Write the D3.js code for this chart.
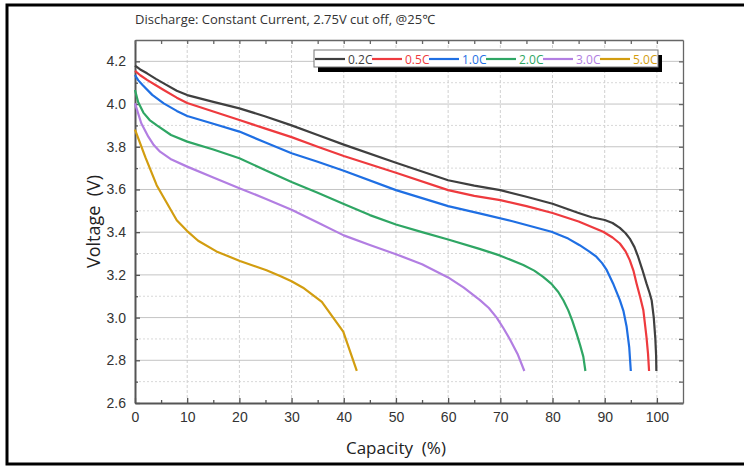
<!DOCTYPE html>
<html>
<head>
<meta charset="utf-8">
<script src="https://cdn.jsdelivr.net/npm/d3@7"></script>
<style>
  body { margin: 0; background: #fff; }
  svg { display: block; font-family: "Open Sans", "Noto Sans", sans-serif; }
  .pre { white-space: pre; }
</style>
</head>
<body>
<div id="chart"></div>
<script>
// discharge curves, [capacity %, voltage V]
const rate02 = [[0,4.18],[1,4.162],[2.3,4.144],[4,4.118],[5.5,4.097],[8,4.062],[10,4.042],[15,4.01],[20,3.98],[25,3.942],[30,3.9],[35,3.855],[40,3.81],[50,3.725],[60,3.643],[65,3.618],[70,3.597],[75,3.566],[80,3.533],[85,3.49],[87.5,3.47],[90,3.457],[91.5,3.443],[92.9,3.42],[94,3.395],[94.8,3.37],[95.7,3.33],[96.4,3.285],[97.2,3.225],[98,3.16],[98.6,3.115],[99,3.08],[99.4,3.0],[99.7,2.9],[99.85,2.82],[99.9,2.75]];
const rate05 = [[0,4.155],[1,4.135],[2.3,4.113],[4,4.088],[5.5,4.066],[8,4.03],[10,4.005],[15,3.965],[20,3.925],[25,3.885],[30,3.845],[35,3.8],[40,3.757],[50,3.678],[60,3.597],[65,3.57],[70,3.55],[75,3.522],[80,3.49],[85,3.45],[89.7,3.402],[91.5,3.375],[92.9,3.347],[94,3.31],[94.8,3.269],[95.5,3.22],[96.1,3.16],[96.8,3.095],[97.4,3.035],[98,2.91],[98.3,2.83],[98.5,2.75]];
const rate10 = [[0,4.136],[0.6,4.112],[1.4,4.09],[3.3,4.043],[5.5,4.003],[8,3.968],[10,3.944],[15,3.908],[20,3.871],[25,3.82],[30,3.77],[35,3.73],[40,3.688],[50,3.597],[60,3.522],[66,3.488],[72.5,3.45],[79.8,3.402],[83,3.37],[85.2,3.339],[87,3.31],[88.4,3.285],[89.5,3.255],[90.4,3.222],[91.6,3.16],[92.9,3.082],[93.6,3.03],[94.2,2.957],[94.7,2.86],[95,2.75]];
const rate20 = [[0,4.066],[0.6,4.01],[1.6,3.96],[2.8,3.925],[4.2,3.9],[6.9,3.855],[10,3.824],[15,3.787],[20,3.746],[25,3.69],[30,3.635],[35,3.585],[40,3.532],[45,3.48],[50,3.436],[55,3.4],[60,3.366],[66,3.322],[70,3.29],[74.4,3.246],[76.5,3.22],[78.2,3.191],[79.8,3.158],[81.1,3.12],[82.1,3.08],[83,3.035],[83.8,2.985],[84.6,2.926],[85.3,2.87],[85.9,2.817],[86.3,2.75]];
const rate30 = [[0,4.003],[1.2,3.91],[2.55,3.847],[3.6,3.808],[4.8,3.777],[7,3.74],[10,3.707],[15,3.656],[20,3.606],[25,3.557],[30,3.505],[35,3.445],[40,3.385],[45,3.34],[50,3.297],[55,3.25],[60,3.188],[63,3.14],[66.1,3.082],[67.8,3.045],[69.3,3.0],[70.6,2.95],[71.8,2.9],[73.3,2.83],[74.6,2.75]];
const rate50 = [[0,3.88],[2,3.75],[4.15,3.62],[8,3.456],[10,3.405],[12.1,3.36],[15.6,3.31],[20.1,3.265],[25.2,3.222],[27.8,3.195],[30,3.17],[32.2,3.14],[35.8,3.074],[39.9,2.934],[42.5,2.75]];

const rateNames = ["0.2C", "0.5C", "1.0C", "2.0C", "3.0C", "5.0C"];
const rateColors = ["#3f3f3f", "#ee3a3e", "#1f6fe3", "#2fa664", "#b27ee2", "#d29d10"];
const rateData = [rate02, rate05, rate10, rate20, rate30, rate50];

const xTicks = [0,10,20,30,40,50,60,70,80,90,100];
const yTicks = [2.6,2.8,3.0,3.2,3.4,3.6,3.8,4.0,4.2];

const W = 744, H = 466;
const margin = {top: 40, right: 61, bottom: 63, left: 135};
const width = W - margin.left - margin.right;
const height = H - margin.top - margin.bottom;

const svg = d3.select("#chart").append("svg")
    .attr("width", W)
    .attr("height", H);

// outer black frame
svg.append("rect")
    .attr("x", 7).attr("y", 5)
    .attr("width", W + 20).attr("height", 459)
    .attr("fill", "none")
    .attr("stroke", "#000")
    .attr("stroke-width", 3);

svg.append("text")
    .attr("x", 135).attr("y", 24)
    .attr("font-size", 13)
    .attr("fill", "#333")
    .text("Discharge: Constant Current, 2.75V cut off, @25℃");

const g = svg.append("g")
    .attr("transform", `translate(${margin.left},${margin.top})`);

const x = d3.scaleLinear().domain([0, 105]).range([0, width]);
const y = d3.scaleLinear().domain([2.6, 4.3]).range([height, 0]);

// grid
const minorY = d3.range(2.7, 4.3, 0.2);
g.selectAll(".gminor")
    .data(minorY).enter().append("line")
    .attr("x1", 0).attr("x2", width)
    .attr("y1", d => y(d)).attr("y2", d => y(d))
    .attr("stroke", "#d8d8d8")
    .attr("stroke-dasharray", "2,2");
g.selectAll(".gx")
    .data(xTicks.slice(1)).enter().append("line")
    .attr("x1", d => x(d)).attr("x2", d => x(d))
    .attr("y1", 0).attr("y2", height)
    .attr("stroke", "#d0d0d0")
    .attr("stroke-dasharray", "3,2");
g.selectAll(".gy")
    .data(yTicks.slice(1)).enter().append("line")
    .attr("x1", 0).attr("x2", width)
    .attr("y1", d => y(d)).attr("y2", d => y(d))
    .attr("stroke", "#c4c4c4");

// axes, ticks inward
const xMinor = d3.range(5, 105, 10);
const yMinor = d3.range(2.7, 4.3, 0.2);

function axisStyle(sel, col, sw) {
    sel.select(".domain").attr("stroke", col).attr("stroke-width", sw);
    sel.selectAll(".tick line").attr("stroke", col).attr("stroke-width", 1.3);
}

const axBottom = g.append("g").attr("transform", `translate(0,${height})`)
    .call(d3.axisBottom(x).tickValues(xTicks).tickSizeInner(-5).tickSizeOuter(0).tickPadding(9));
axBottom.selectAll(".tick text").attr("font-size", 14).attr("fill", "#333").attr("font-family", null);
axisStyle(axBottom, "#555", 2);
g.append("g").attr("transform", `translate(0,${height})`)
    .call(d3.axisBottom(x).tickValues(xMinor).tickSizeInner(-3).tickSizeOuter(0).tickFormat(""))
    .call(s => { s.select(".domain").remove(); s.selectAll("line").attr("stroke", "#555").attr("stroke-width", 1.3); });

const axLeft = g.append("g")
    .call(d3.axisLeft(y).tickValues(yTicks).tickFormat(d3.format(".1f")).tickSizeInner(-5).tickSizeOuter(0).tickPadding(9));
axLeft.selectAll(".tick text").attr("font-size", 14).attr("fill", "#333").attr("font-family", null);
axisStyle(axLeft, "#555", 2);
g.append("g")
    .call(d3.axisLeft(y).tickValues(yMinor).tickSizeInner(-3).tickSizeOuter(0).tickFormat(""))
    .call(s => { s.select(".domain").remove(); s.selectAll("line").attr("stroke", "#555").attr("stroke-width", 1.3); });

const axTop = g.append("g")
    .call(d3.axisTop(x).tickValues(xTicks.concat(xMinor)).tickSizeInner(-4).tickSizeOuter(0).tickFormat(""));
axisStyle(axTop, "#666", 1.3);
const axRight = g.append("g").attr("transform", `translate(${width},0)`)
    .call(d3.axisRight(y).tickValues(yTicks.concat(yMinor)).tickSizeInner(-4).tickSizeOuter(0).tickFormat(""));
axisStyle(axRight, "#666", 1.3);

// axis titles
svg.append("text")
    .attr("class", "pre")
    .attr("x", margin.left + x(50)).attr("y", 454)
    .attr("text-anchor", "middle")
    .attr("font-size", 17)
    .attr("fill", "#222")
    .text("Capacity  (%)");
svg.append("text")
    .attr("class", "pre")
    .attr("transform", `translate(100,${margin.top + y(3.45)}) rotate(-90)`)
    .attr("text-anchor", "middle")
    .attr("font-size", 18)
    .attr("fill", "#222")
    .text("Voltage  (V)");

// curves
const line = d3.line()
    .x(d => x(d[0]))
    .y(d => y(d[1]));

g.selectAll(".curve")
    .data(rateData).enter().append("path")
    .attr("class", "curve")
    .attr("d", line)
    .attr("fill", "none")
    .attr("stroke", (d, i) => rateColors[i])
    .attr("stroke-width", 2.2)
    .attr("stroke-linejoin", "round");

// legend
const lg = svg.append("g").attr("transform", "translate(314,50)");
lg.append("rect").attr("x", 4).attr("y", 5).attr("width", 344).attr("height", 17).attr("fill", "#000");
lg.append("rect").attr("x", 0).attr("y", 0).attr("width", 344).attr("height", 17)
    .attr("fill", "#fff").attr("stroke", "#777").attr("stroke-width", 1);
rateNames.forEach((n, i) => {
    const ox = 1 + i * 57;
    lg.append("line")
        .attr("x1", ox).attr("x2", ox + 30)
        .attr("y1", 9).attr("y2", 9)
        .attr("stroke", rateColors[i]).attr("stroke-width", 2.2);
    lg.append("text")
        .attr("x", ox + 33).attr("y", 13.5)
        .attr("font-size", 12)
        .attr("fill", rateColors[i])
        .text(n);
});
</script>
</body>
</html>
